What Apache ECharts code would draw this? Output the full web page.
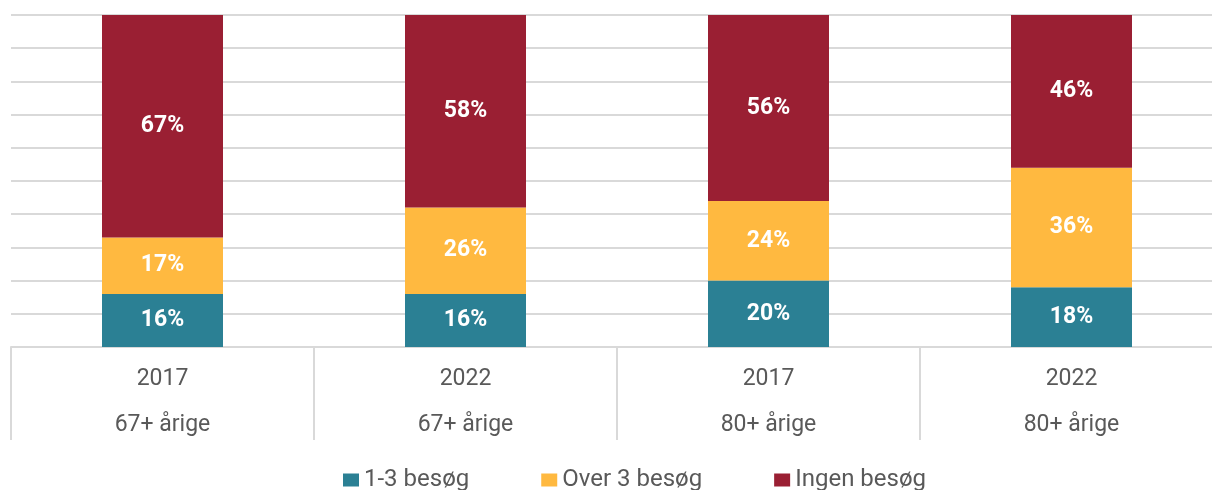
<!DOCTYPE html>
<html>
<head>
<meta charset="utf-8">
<script src="https://cdn.jsdelivr.net/npm/echarts@6/dist/echarts.min.js"></script>
<style>
  html, body { margin: 0; padding: 0; background: #fff; }
  #main { width: 1212px; height: 490px; }
</style>
</head>
<body>
<div id="main"></div>
<script>
// data
var years = ['2017', '2022', '2017', '2022'];
var groups = ['67+ årige', '67+ årige', '80+ årige', '80+ årige'];
var besog13 = [16, 16, 20, 18];
var over3 = [17, 26, 24, 36];
var ingen = [67, 58, 56, 46];

var categories = years.map(function (y, i) { return y + '\n' + groups[i]; });

var chart = echarts.init(document.getElementById('main'));

function barSeries(name, data, color) {
  return {
    name: name,
    type: 'bar',
    stack: 'total',
    barWidth: 121,
    data: data,
    itemStyle: { color: color },
    label: {
      show: true,
      position: 'inside',
      formatter: '{c}%',
      color: '#fff',
      fontFamily: 'Roboto',
      fontWeight: 'bold',
      fontSize: 23
    }
  };
}

var option = {
  animation: false,
  // plot runs past the right edge like in the original
  grid: { left: 11, top: 15, width: 1212, height: 332, containLabel: false, outerBoundsMode: 'none' },
  legend: {
    left: 338,
    top: 463,
    icon: 'rect',
    itemWidth: 16,
    itemHeight: 13,
    itemGap: 72,
    textStyle: { fontFamily: 'Roboto', fontSize: 24, color: '#595959' },
    data: ['1-3 besøg', 'Over 3 besøg', 'Ingen besøg']
  },
  xAxis: {
    type: 'category',
    data: categories,
    axisLine: { lineStyle: { color: '#d9d9d9', width: 2 } },
    axisTick: { show: true, interval: 0, length: 93, lineStyle: { color: '#d9d9d9', width: 2 } },
    axisLabel: {
      margin: 9,
      interval: 0,
      fontFamily: 'Roboto',
      fontSize: 23,
      lineHeight: 46,
      color: '#595959'
    }
  },
  yAxis: {
    type: 'value',
    min: 0,
    max: 100,
    interval: 10,
    axisLabel: { show: false },
    axisLine: { show: false },
    axisTick: { show: false },
    splitLine: { lineStyle: { color: '#d9d9d9', width: 2 } }
  },
  series: [
    barSeries('1-3 besøg', besog13, '#2b8094'),
    barSeries('Over 3 besøg', over3, '#ffb940'),
    barSeries('Ingen besøg', ingen, '#9a1f33')
  ]
};

chart.setOption(option);
</script>
</body>
</html>
